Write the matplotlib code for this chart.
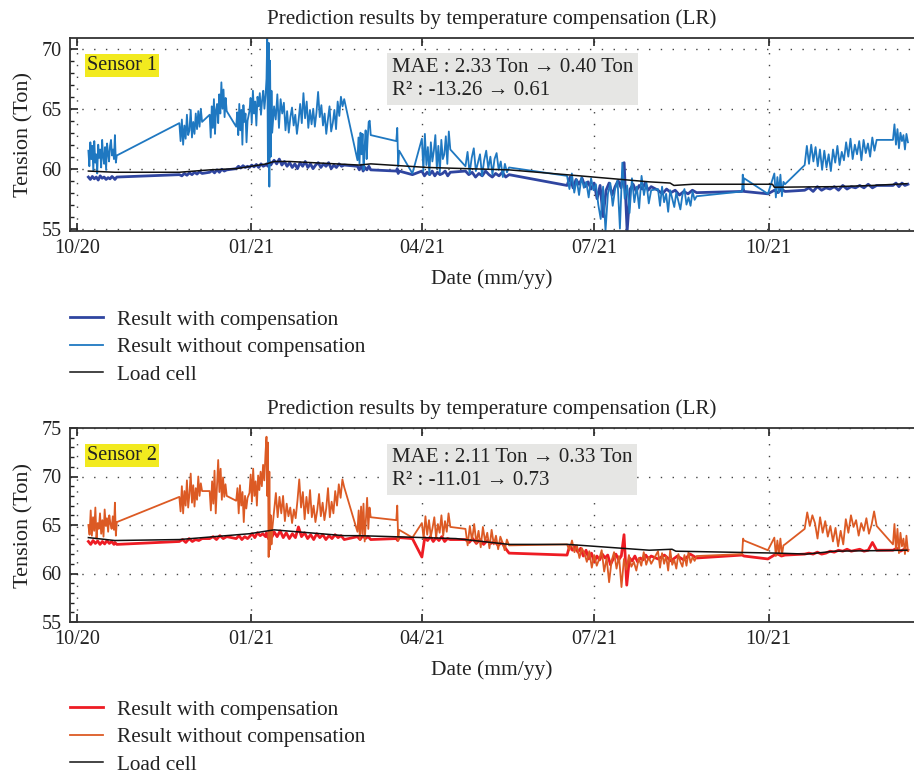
import numpy as np
import matplotlib
matplotlib.use("Agg")
import matplotlib.pyplot as plt
import matplotlib.dates as mdates
from matplotlib.ticker import MultipleLocator

plt.rcParams['font.family'] = ['Liberation Serif', 'DejaVu Serif']
plt.rcParams['text.color'] = '#222222'
plt.rcParams['axes.labelcolor'] = '#222222'
plt.rcParams['xtick.color'] = '#222222'
plt.rcParams['ytick.color'] = '#222222'

# days after 2020-10-01 where each logging burst starts / ends (shared by both sensors)
burst_start = [6, 20, 54, 70, 84, 91, 100, 104, 148, 168.5, 177, 182, 205, 258.6, 306.6, 351, 364.6, 368, 384, 430.6]
burst_end = [19.5, 21, 66, 79, 90, 99.5, 103, 141, 155, 170, 177, 197, 228, 303, 327, 352, 364.6, 373.6, 422, 438.5]

# Sensor 1 - without compensation
s1_raw = [
    [61.5, 60.2, 62.2, 60.8, 61.9, 59.8, 62.3, 60.5, 61.2, 59.6, 62.0, 60.9, 61.6, 60.1, 62.4, 61.0, 60.4, 61.8, 59.9, 62.1, 61.3, 60.6, 61.9, 62.4, 61.1, 61.6, 60.8],
    [62.8, 60.5, 61.1],
    [63.8, 62.3, 64.1, 62.0, 63.6, 62.5, 64.5, 62.8, 63.2, 64.9, 62.6, 63.9, 62.9, 64.6, 63.3, 64.8, 63.5, 65.0, 63.9],
    [64.5, 62.6, 65.2, 63.4, 65.8, 62.9, 64.9, 65.4, 63.8, 66.2, 64.6, 67.2, 65.0, 66.6, 64.3, 65.9, 64.8],
    [63.5, 64.7, 62.8, 65.4, 63.2, 64.9, 62.0, 65.3, 63.9, 64.6, 62.2, 64.0],
    [64.8, 65.9, 63.8, 66.5, 64.6, 65.6, 63.6, 66.0, 65.2, 66.3, 64.5, 65.7, 66.5, 65.0, 66.1],
    [67.5, 70.9, 60.5, 70.5, 58.5, 69.0, 61.0, 66.5, 63.0],
    [65.2, 64.1, 66.2, 63.4, 65.8, 64.6, 65.5, 63.2, 64.8, 63.0, 64.3, 65.1, 63.6, 64.5, 62.9, 64.0, 65.4, 63.8, 66.3, 64.2, 65.6, 63.4, 64.9, 63.7, 65.0, 63.5, 64.7, 66.4, 64.3, 65.3, 63.6, 64.6, 62.9, 64.1, 65.2, 63.1, 63.8, 64.9, 63.3, 65.6, 64.4, 66.0, 65.2, 65.8],
    [60.7, 62.6, 60.4, 63.0, 61.2, 62.9, 59.9, 61.8, 63.2, 60.8, 62.5, 63.9, 64.0, 62.8],
    [62.3, 63.4, 60.2, 61.5],
    [59.6],
    [62.5, 59.8, 62.9, 60.3, 61.8, 59.5, 62.2, 60.6, 61.5, 62.8, 60.0, 61.9, 59.7, 62.4, 60.8, 61.2, 62.7, 60.4, 63.1, 61.6],
    [60.2, 61.4, 59.6, 60.9, 61.7, 59.8, 60.5, 61.2, 59.4, 60.7, 61.5, 60.0, 61.0, 59.5, 60.8, 61.3, 59.9, 60.6, 59.3, 60.4, 59.7, 60.1],
    [59.4, 58.3, 59.6, 58.0, 59.1, 57.8, 59.3, 58.4, 58.9, 57.6, 59.2, 58.2, 58.7, 57.0, 55.8, 58.5, 54.8, 57.9, 58.8, 56.9, 58.3, 59.0, 55.0, 60.5, 57.5, 58.6, 56.3, 59.2, 57.2, 58.5, 56.7, 59.4, 57.8, 58.9, 57.1, 58.2],
    [58.3, 56.9, 58.5, 57.2, 57.9, 56.4, 58.2, 57.5, 56.8, 58.0, 57.3, 56.6, 57.8, 58.3, 57.0, 57.6, 56.9, 58.1, 57.4, 57.7],
    [58.1, 59.5, 58.3, 59.2],
    [57.9],
    [59.6, 57.6, 59.3, 58.0, 59.5, 57.7, 58.9, 58.7],
    [60.3, 61.9, 60.4, 62.0, 60.6, 61.8, 60.2, 61.6, 59.9, 61.5, 60.1, 61.2, 59.8, 61.6, 60.5, 61.9, 60.3, 61.4, 60.7, 62.2, 61.0, 62.5, 60.8, 62.0, 61.2, 62.3, 60.7, 62.4, 61.3, 62.1, 61.0, 62.6, 61.5, 62.4],
    [62.4, 63.7, 62.0, 63.3, 61.7, 63.0, 62.3, 62.8, 61.6, 62.9, 62.2],
]

# Sensor 1 - with compensation
s1_comp = [
    [59.3, 59.1, 59.35, 59.15, 59.3, 59.05, 59.4, 59.2, 59.3, 59.1, 59.25, 59.15, 59.35, 59.2],
    [59.1, 59.3],
    [59.5, 59.4, 59.6, 59.45, 59.65, 59.5, 59.7, 59.55, 59.75, 59.6],
    [59.7, 59.85, 59.65, 59.9, 59.7, 59.95, 59.8, 59.9],
    [60.0, 60.2, 60.05, 60.25, 60.1, 60.2],
    [60.1, 60.3, 60.15, 60.35, 60.1, 60.4, 60.2, 60.3],
    [60.4, 60.2, 60.6, 60.3, 60.5],
    [60.7, 60.4, 60.8, 60.3, 60.6, 60.2, 60.5, 60.1, 60.4, 60.0, 60.5, 60.2, 60.6, 60.1, 60.4, 60.0, 60.3, 60.5, 60.1, 60.4, 60.2, 60.5, 60.0, 60.3, 60.1, 60.4, 60.2, 60.3],
    [60.2, 59.9, 60.3, 59.8, 60.1, 59.9, 60.2, 59.9],
    [59.8, 60.0, 59.6, 59.8],
    [59.5],
    [59.8, 59.4, 59.7, 59.5, 59.8, 59.4, 59.7, 59.5, 59.6, 59.8, 59.4, 59.7],
    [59.8, 59.5, 59.7, 59.3, 59.6, 59.4, 59.8, 59.5, 59.3, 59.6, 59.4, 59.7, 59.3, 59.5],
    [58.6, 59.3, 58.4, 59.1, 58.7, 59.2, 58.5, 58.9, 58.3, 58.8, 57.5, 58.6, 56.0, 58.2, 58.8, 57.8, 58.5, 59.0, 58.4, 60.5, 54.8, 58.3, 58.7, 58.1, 58.6, 58.3, 58.8, 58.2, 58.5],
    [58.2, 57.9, 58.3, 58.0, 58.2, 57.8, 58.1, 57.9, 58.2, 58.0],
    [58.1, 58.3, 58.1],
    [57.9],
    [58.2, 58.0, 58.3, 58.1],
    [58.2, 58.4, 58.1, 58.5, 58.2, 58.4, 58.3, 58.5, 58.2, 58.6, 58.3, 58.5, 58.4, 58.6, 58.4, 58.7, 58.4, 58.6],
    [58.6, 58.8, 58.5, 58.8, 58.6, 58.7],
]

s1_load_days = [6, 20, 54, 70, 84, 100, 104, 112, 149, 155, 185, 206, 228, 258, 302, 313, 315, 325, 367, 368, 400, 420, 438]
s1_load = [59.8, 59.7, 59.7, 59.9, 60.0, 60.4, 60.6, 60.6, 60.3, 60.4, 60.1, 60.0, 59.9, 59.5, 58.9, 58.8, 58.6, 58.7, 58.7, 58.45, 58.5, 58.6, 58.75]

# Sensor 2 - without compensation
s2_raw = [
    [65.0, 64.0, 66.5, 63.9, 65.8, 64.4, 66.8, 63.6, 65.2, 64.6, 66.2, 64.1, 65.5, 63.8, 66.6, 64.9, 65.7, 64.3, 66.0, 65.1, 64.6, 65.9, 64.5],
    [67.3, 63.9, 65.3],
    [67.9, 66.4, 69.0, 66.2, 68.5, 67.0, 69.6, 66.8, 68.2, 70.3, 67.3, 69.1, 66.9, 68.8, 67.6, 70.0, 68.0, 69.3, 68.5],
    [68.5, 66.5, 69.5, 67.2, 70.6, 66.2, 68.9, 71.7, 68.4, 70.8, 67.6, 69.9, 67.9, 69.2, 68.0],
    [67.5, 68.8, 66.2, 69.1, 67.0, 68.4, 65.3, 68.0, 66.7, 67.8],
    [68.3, 70.2, 67.4, 70.8, 68.0, 69.5, 67.0, 70.1, 68.6, 70.5, 69.0, 71.2, 69.6, 72.5],
    [74.1, 68.0, 73.5, 61.7, 70.5, 62.5, 66.0, 63.0, 64.5],
    [66.5, 68.3, 65.8, 67.9, 66.2, 68.0, 65.4, 67.2, 65.9, 66.8, 65.2, 66.6, 65.7, 67.5, 69.7, 66.8, 68.4, 65.6, 67.9, 66.2, 68.6, 65.8, 67.0, 65.3, 66.5, 68.2, 65.9, 67.3, 65.5, 66.7, 68.8, 65.8, 67.4, 66.2, 68.5, 67.0, 69.2, 67.8, 69.7, 68.9],
    [64.3, 66.5, 63.5, 66.9, 64.1, 67.2, 63.3, 65.6, 67.8, 64.6, 66.8, 65.8],
    [65.5, 67.0, 63.4, 64.5],
    [63.7],
    [65.2, 63.6, 65.9, 64.0, 65.5, 63.8, 64.7, 65.8, 63.7, 65.1, 64.2, 66.0, 63.9, 65.4, 64.3, 66.2, 64.8],
    [64.6, 62.9, 64.9, 63.4, 65.1, 63.1, 64.4, 62.7, 64.8, 63.3, 64.2, 62.6, 64.5, 63.0, 63.9, 62.5, 63.8, 63.2, 62.4, 63.5, 62.9],
    [63.0, 62.4, 63.4, 62.2, 62.9, 61.6, 62.6, 62.1, 61.2, 62.3, 60.6, 61.9, 60.8, 61.5, 62.4, 60.2, 61.6, 59.1, 61.3, 62.2, 60.5, 61.8, 58.6, 61.5, 60.4, 61.9, 60.7, 61.2, 60.3, 61.6, 60.8, 62.2, 60.9, 61.7, 61.0],
    [62.3, 60.6, 62.1, 61.0, 61.8, 60.3, 62.4, 60.9, 61.4, 60.5, 62.0, 61.2, 60.7, 61.9, 60.8, 62.2, 61.1, 61.7, 61.3, 61.8],
    [62.0, 63.6, 63.4],
    [62.4],
    [63.7, 61.8, 63.4, 62.0, 63.6, 61.9, 62.9, 63.0],
    [64.6, 66.3, 64.9, 66.0, 65.2, 63.6, 65.8, 64.2, 65.4, 63.8, 64.9, 63.3, 64.7, 62.8, 64.4, 63.0, 65.6, 64.2, 66.0, 64.8, 65.5, 63.9, 65.2, 64.4, 65.7, 64.1, 65.0, 66.4, 64.9],
    [63.0, 65.1, 62.4, 64.6, 62.1, 64.2, 62.8, 63.6, 62.0, 63.9, 62.3],
]

# Sensor 2 - with compensation
s2_comp = [
    [63.3, 63.0, 63.4, 63.1, 63.35, 63.0, 63.3, 63.05, 63.4, 63.1, 63.3, 63.0],
    [63.2, 63.0],
    [63.3, 63.5, 63.2, 63.6, 63.3, 63.5, 63.4, 63.6],
    [63.6, 63.8, 63.5, 63.9, 63.6, 63.8],
    [63.6, 63.9, 63.5, 63.8, 63.6],
    [63.8, 64.1, 63.7, 64.2, 63.9, 64.1, 63.8],
    [64.2, 63.6, 64.5, 63.8],
    [64.3, 63.8, 64.4, 63.7, 64.2, 63.6, 64.1, 63.7, 64.8, 63.8, 64.2, 63.6, 64.0, 63.5, 64.1, 63.7, 64.0, 63.5, 63.9, 63.6, 64.0, 63.7, 63.9, 63.5],
    [63.8, 63.5, 63.9, 63.6, 63.8, 63.5],
    [63.6, 63.4, 63.7],
    [63.6],
    [61.7, 63.7, 63.4, 63.8, 63.3, 63.7, 63.4, 63.8, 63.3, 63.6, 63.5],
    [63.5, 63.2, 63.6, 63.1, 63.5, 63.0, 63.4, 63.1, 63.3, 62.9, 63.2, 62.6, 62.1],
    [61.9, 62.9, 62.4, 62.8, 62.2, 62.6, 61.8, 62.4, 61.5, 62.1, 61.2, 61.8, 61.4, 62.0, 61.6, 61.9, 60.9, 61.5, 62.0, 61.4, 61.8, 64.0, 58.8, 61.6, 61.3, 61.8, 61.2, 61.6, 61.4, 61.9, 61.5, 61.8],
    [61.5, 61.9, 61.3, 61.8, 61.4, 62.0, 61.6],
    [61.9, 61.8],
    [61.5],
    [61.9, 62.0, 61.8, 61.9],
    [62.0, 62.1, 62.0, 62.2, 62.0, 62.1, 62.3, 62.2, 62.4, 62.3, 62.5, 62.3, 62.4, 62.5, 62.3, 62.4, 63.2, 62.4],
    [62.4, 62.6, 62.3, 62.5, 62.4],
]

s2_load_days = [6, 20, 54, 91, 104, 110, 141, 149, 200, 228, 259, 302, 314, 316, 370, 385, 400, 438]
s2_load = [63.7, 63.4, 63.5, 64.1, 64.5, 64.4, 63.9, 63.9, 63.6, 63.0, 63.0, 62.4, 62.5, 62.3, 62.1, 62.0, 62.3, 62.4]

sensor_names = ['Sensor 1', 'Sensor 2']
mae_text = ['MAE : 2.33 Ton \u2192 0.40 Ton', 'MAE : 2.11 Ton \u2192 0.33 Ton']
r2_text = ['R\u00b2 : -13.26 \u2192 0.61', 'R\u00b2 : -11.01 \u2192 0.73']
legend_labels = ['Result with compensation', 'Result without compensation', 'Load cell']

base = mdates.datestr2num('2020-10-01')


def flatten(bursts):
    xs, ys = [], []
    for s, e, vals in zip(burst_start, burst_end, bursts):
        xs.extend(np.linspace(s, e, len(vals)))
        ys.extend(vals)
    return base + np.array(xs), np.array(ys)


fig = plt.figure(figsize=(9.14, 7.75), dpi=100)
ax1 = fig.add_axes([70 / 914, 1 - 231 / 775, 844 / 914, 193 / 775])
ax2 = fig.add_axes([70 / 914, 1 - 622 / 775, 844 / 914, 194 / 775])

setups = [
    (ax1, s1_comp, s1_raw, s1_load_days, s1_load, '#2f45a0', '#1f78c1', (54.8, 70.9), 0),
    (ax2, s2_comp, s2_raw, s2_load_days, s2_load, '#ee1c24', '#dc5a24', (55, 75), 1),
]

for ax, comp, raw, ld, lv, c_comp, c_raw, ylim, i in setups:
    x, y = flatten(comp)
    ax.plot(x, y, color=c_comp, lw=2.0, label=legend_labels[0])
    x, y = flatten(raw)
    ax.plot(x, y, color=c_raw, lw=1.3, label=legend_labels[1])
    ax.plot(base + np.array(ld), lv, color='#111111', lw=1.1, label=legend_labels[2])

    ax.set_xlim(base - 3.7, base + 441.7)
    ax.set_ylim(*ylim)
    ax.xaxis.set_major_locator(mdates.MonthLocator(bymonth=[1, 4, 7, 10]))
    ax.xaxis.set_major_formatter(mdates.DateFormatter('%m/%y'))
    ax.yaxis.set_major_locator(MultipleLocator(5))
    ax.yaxis.set_minor_locator(MultipleLocator(1))
    ax.tick_params(direction='in', top=True, right=False, length=6, width=1.2, labelsize=14.5, pad=6)
    ax.tick_params(which='minor', direction='in', length=3, width=1)
    ax.grid(True, which='major', linestyle=(0, (1, 7.5)), color='#444444', lw=1.0)
    ax.spines['right'].set_visible(False)
    for sp in ['left', 'bottom', 'top']:
        ax.spines[sp].set_linewidth(1.3)
        ax.spines[sp].set_color('#333333')

    ax.set_title('Prediction results by temperature compensation (LR)', fontsize=15.2, pad=10)
    ax.set_xlabel('Date (mm/yy)', fontsize=15.5, labelpad=8)
    ax.set_ylabel('Tension (Ton)', fontsize=16, labelpad=6)

    ax.text(0.02, 0.905, sensor_names[i], transform=ax.transAxes, fontsize=14.5, va='top',
            bbox=dict(facecolor='#f2ea1f', edgecolor='none', pad=1.5))
    ax.text(0.381, 0.895, mae_text[i] + '\n' + r2_text[i], transform=ax.transAxes, fontsize=15,
            va='top', linespacing=1.25,
            bbox=dict(facecolor='#e6e6e4', edgecolor='none', pad=3.5))

    leg_top = 1 - (310 / 775 if i == 0 else 700 / 775)
    ax.legend(loc='upper left', bbox_to_anchor=(70 / 914, leg_top), bbox_transform=fig.transFigure,
              frameon=False, fontsize=15.3, handlelength=1.55, handletextpad=0.66,
              labelspacing=0.35, borderpad=0, borderaxespad=0)

fig.savefig('out.png', dpi=100)
